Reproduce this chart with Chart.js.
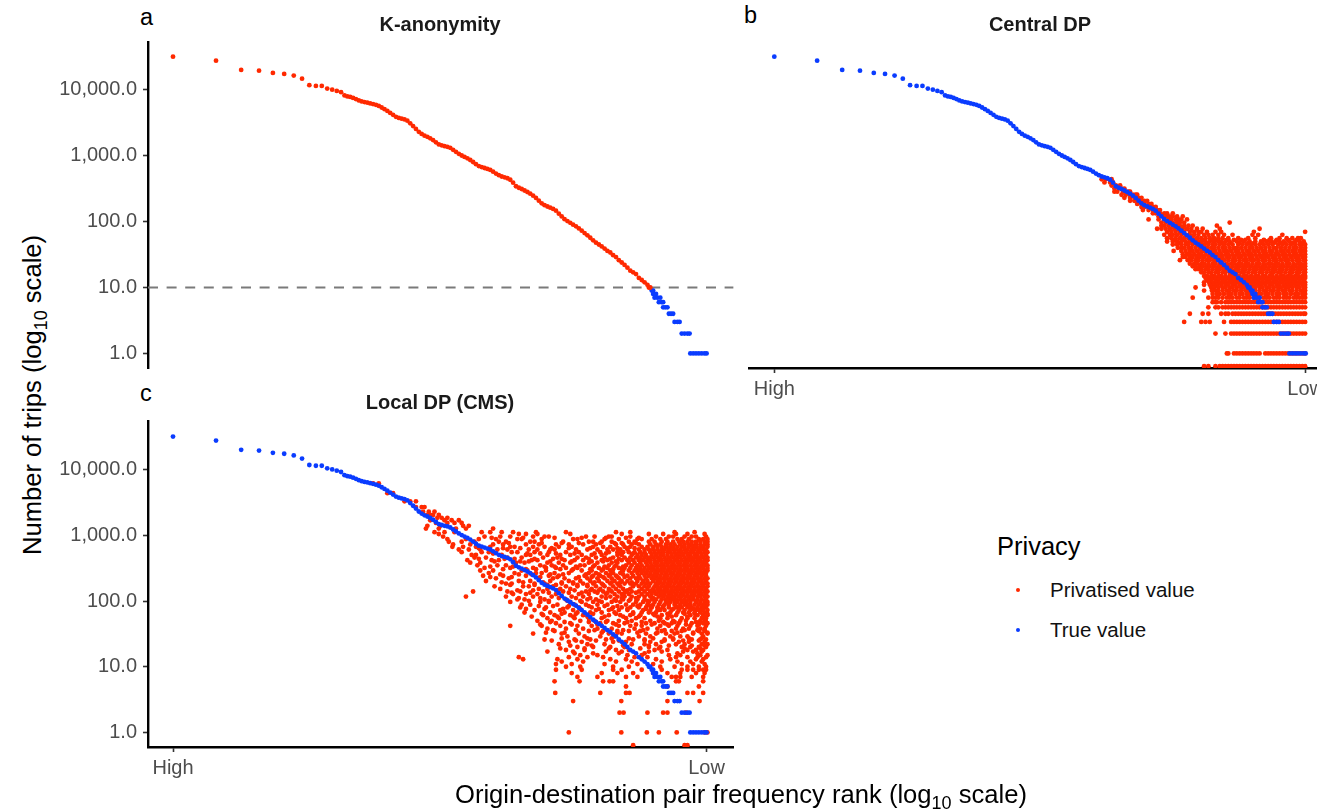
<!DOCTYPE html>
<html>
<head>
<meta charset="utf-8">
<title>Origin-destination trips under privacy methods</title>
<script src="https://cdn.jsdelivr.net/npm/chart.js@4"></script>
<style>
  html, body { margin: 0; padding: 0; width: 1317px; height: 809px; overflow: hidden; background: #fff; }
  body { position: relative; font-family: "Liberation Sans", Arial, sans-serif; color: #000; }
  canvas { position: absolute; }
  .txt { position: absolute; white-space: nowrap; line-height: 1; }
  .letter { font-size: 23.5px; }
  .title { font-size: 20px; font-weight: bold; color: #1a1a1a; transform: translateX(-50%); }
  .axis-title { font-size: 25.6px; }
  .axis-title sub { font-size: 18px; line-height: 0; }
  .dot { position: absolute; width: 4px; height: 4px; border-radius: 50%; }
</style>
</head>
<body>
<canvas id="panel-a" width="676" height="340" style="left:60px;top:32px"></canvas>
<canvas id="panel-b" width="588" height="376" style="left:747px;top:32px"></canvas>
<canvas id="panel-c" width="676" height="376" style="left:60px;top:411px"></canvas>

<div class="txt letter" style="left:140px;top:6px">a</div>
<div class="txt letter" style="left:744px;top:4px">b</div>
<div class="txt letter" style="left:140px;top:382px">c</div>
<div class="txt title" style="left:440px;top:14px">K-anonymity</div>
<div class="txt title" style="left:1040px;top:14px">Central DP</div>
<div class="txt title" style="left:440px;top:392px">Local DP (CMS)</div>
<div class="txt axis-title" style="left:33px;top:395px;transform:translate(-50%,-50%) rotate(-90deg)">Number of trips (log<sub>10</sub> scale)</div>
<div class="txt axis-title" style="left:741px;top:782px;transform:translateX(-50%)">Origin-destination pair frequency rank (log<sub>10</sub> scale)</div>

<div class="txt" style="left:997px;top:534px;font-size:25.5px">Privacy</div>
<div class="dot" style="left:1016px;top:588px;background:#FF2900"></div>
<div class="txt" style="left:1050px;top:580px;font-size:20.5px;color:#111">Privatised value</div>
<div class="dot" style="left:1016px;top:628px;background:#0A3CFF"></div>
<div class="txt" style="left:1050px;top:620px;font-size:20.5px;color:#111">True value</div>

<script>
// x values are log10 of the rank
const xTickValues = [0, 3.734];
const xTickLabels = ['High', 'Low'];
const yTickValues = [1, 10, 100, 1000, 10000];
const yTickLabels = ['1.0', '10.0', '100.0', '1,000.0', '10,000.0'];
const kThreshold = 10;
const floorTrips = 0.64; // zero counts, squashed onto the axis

const trueRank = [0,0.301,0.477,0.602,0.699,0.778,0.845,0.903,0.954,1,1.041,1.079,1.114,1.146,1.176,
  1.20,1.22,1.24,1.26,1.28,1.30,1.32,1.34,1.36,1.38,1.40,1.42,1.44,1.46,1.48,1.50,1.52,1.54,1.56,1.58,
  1.60,1.62,1.64,1.66,1.68,1.70,1.72,1.74,1.76,1.78,1.80,1.82,1.84,1.86,1.88,1.90,1.92,1.94,1.96,1.98,
  2.00,2.02,2.04,2.06,2.08,2.10,2.12,2.14,2.16,2.18,2.20,2.22,2.24,2.26,2.28,2.30,2.32,2.34,2.36,2.38,
  2.40,2.42,2.44,2.46,2.48,2.50,2.52,2.54,2.56,2.58,2.60,2.62,2.64,2.66,2.68,2.70,2.72,2.74,2.76,2.78,
  2.80,2.82,2.84,2.86,2.88,2.90,2.92,2.94,2.96,2.98,3.00,3.02,3.04,3.06,3.08,3.10,3.12,3.14,3.16,3.18,
  3.20,3.22,3.24,3.26,3.28,3.30,3.32,3.33,3.34,
  3.35,3.36,3.36,3.38,3.37,3.39,3.41,3.40,3.42,3.43,3.43,3.445,3.46,3.47,3.485,3.50,3.51,3.53,3.545,
  3.56,3.58,3.60,3.615,3.62,3.64,3.66,3.68,3.70,3.72,3.734];
const trueTrips = [32000,27800,20100,19600,18100,17500,16500,14800,11800,11500,11500,10500,10100,9660,9230,
  8260,7980,7830,7570,7260,6930,6700,6530,6400,6240,6090,5930,5720,5410,5100,4800,4480,4180,3900,3760,
  3660,3570,3410,3110,2830,2560,2310,2150,2020,1940,1840,1730,1600,1490,1440,1400,1370,1320,1230,1150,
  1070,1010,960,914,863,805,746,698,675,653,631,610,573,537,507,485,471,456,433,390,
  345,327,313,297,282,266,248,229,208,190,178,170,163,156,147,132,120,109,102,96,
  90,85,79,73,67,62,57,52,48,45,42,39,36,34,31,29,26,24,22,20,
  18,17,16,14,13,12,11,10,10,
  9,9,8,8,7,7,7,6,6,6,5,5,5,4,4,4,3,3,3,
  2,2,2,2,1,1,1,1,1,1,1];

// panel b: privatised values, one list of ranks per count
const centralTrips = [440,394,354,318,285,256,230,207,186,167,150,134,120,108,97,87,78,70,63,56,53,50,47,45,40,36,32,29,26,23,21,19,17,15,14,13,12,11,10,9,8,7,6,5,4,3,2,1,floorTrips];
const centralRanks = [
  [2.30,2.33,2.37],
  [2.32,2.36,2.38],
  [2.37,2.40,2.43],
  [2.39,2.42,2.44,2.46],
  [2.39,2.41,2.45,2.47,2.49,2.50],
  [2.44,2.47,2.50,2.52,2.54,2.55],
  [2.46,2.50,2.53,2.56,2.58],
  [2.50,2.53,2.55,2.58,2.60,2.62],
  [2.55,2.58,2.60,2.63,2.65],
  [2.58,2.60,2.63,2.66,2.68],
  [2.59,2.63,2.66,2.69,2.71],
  [2.66,2.68,2.71,2.74,2.76,2.80],
  [2.70,2.73,2.76,2.78,2.80,2.83,2.87],
  [2.63,2.70,2.74,2.77,2.79,2.82,2.84,2.86,2.90],
  [2.72,2.75,2.78,2.80,2.83,2.85,2.88,3.20],
  [2.72,2.74,2.77,2.80,2.83,2.85,2.88,2.91,2.94,3.11],
  [2.69,2.72,2.75,2.78,2.81,2.84,2.87,2.90,2.93,2.97,3.01,3.13,3.41],
  [2.76,2.79,2.82,2.85,2.88,2.92,2.95,2.98,3.00,3.04,3.10,3.14,3.37,3.73],
  [2.74,2.78,2.80,2.83,2.86,2.89,2.92,2.95,2.98,3.02,3.05,3.08,3.12,3.16,3.22,3.36,3.40,3.57],
  [2.76,2.79,2.82,2.85,2.88,2.91,2.94,2.97,3.00,3.03,3.06,3.09,3.12,3.15,3.19,3.26,3.33,3.38,3.49,3.55,3.60,3.64,3.68,3.70],
  [2.81,2.87,2.93,2.96,3.01,3.07,3.11,3.18,3.23,3.28,3.31,3.44,3.48,3.53,3.61,3.67],
  [2.76,2.80,2.83,2.86,2.89,2.92,2.95,2.98,3.00,3.03,3.06,3.09,3.12,3.14,3.17,3.20,3.25,3.30,3.34,3.38,3.42,3.46,3.49,3.52,3.55,3.58,3.62,3.66,3.69,3.72],
  [2.84,2.90,2.99,3.04,3.09,3.15,3.21,3.27,3.33,3.37,3.43,3.51,3.56,3.59,3.64,3.71],
  [2.80,2.83,2.86,2.89,2.91,2.94,2.97,2.99,3.02,3.05,3.08,3.10,3.13,3.16,3.19,3.22,3.26,3.29,3.32,3.35,3.38,3.41,3.44,3.47,3.50,3.54,3.57,3.60,3.63,3.66,3.69,3.71,3.73],
  [2.835,2.86,2.88,2.91,2.93,2.96,2.99,3.01,3.04,3.07,3.09,3.12,3.15,3.17,3.20,3.23,3.25,3.28,3.31,3.34,3.36,3.39,3.42,3.45,3.48,3.51,3.53,3.56,3.59,3.62,3.65,3.67,3.70,3.73],
  [2.806,2.86,2.89,2.92,2.94,2.97,3.00,3.02,3.05,3.08,3.10,3.13,3.16,3.18,3.21,3.24,3.26,3.29,3.32,3.34,3.37,3.40,3.43,3.45,3.48,3.50,3.53,3.56,3.58,3.61,3.64,3.66,3.69,3.71,3.73],
  [2.87,2.90,2.92,2.95,2.98,3.00,3.03,3.06,3.09,3.11,3.14,3.17,3.19,3.22,3.25,3.27,3.30,3.33,3.35,3.38,3.41,3.44,3.46,3.49,3.52,3.54,3.57,3.59,3.62,3.65,3.67,3.70,3.73],
  [2.87,2.89,2.92,2.94,2.97,2.99,3.02,3.05,3.07,3.10,3.13,3.15,3.18,3.20,3.23,3.26,3.28,3.31,3.34,3.36,3.39,3.42,3.44,3.47,3.50,3.52,3.55,3.58,3.60,3.63,3.66,3.68,3.71,3.73],
  [2.85,2.905,2.93,2.96,2.98,3.01,3.04,3.06,3.09,3.11,3.14,3.16,3.19,3.22,3.24,3.27,3.30,3.32,3.35,3.37,3.40,3.43,3.45,3.48,3.51,3.53,3.56,3.59,3.61,3.64,3.67,3.69,3.72,3.73],
  [2.92,2.95,2.97,3.00,3.02,3.05,3.08,3.10,3.13,3.15,3.18,3.21,3.23,3.26,3.28,3.31,3.33,3.36,3.39,3.41,3.44,3.47,3.49,3.52,3.54,3.57,3.60,3.62,3.65,3.68,3.70,3.73],
  [2.94,2.96,2.99,3.01,3.04,3.06,3.09,3.12,3.14,3.17,3.19,3.22,3.25,3.27,3.30,3.32,3.35,3.38,3.40,3.43,3.45,3.48,3.51,3.53,3.56,3.58,3.61,3.64,3.66,3.69,3.71,3.73],
  [2.96,2.98,3.00,3.03,3.05,3.08,3.11,3.13,3.16,3.18,3.21,3.24,3.26,3.29,3.31,3.34,3.37,3.39,3.42,3.44,3.47,3.50,3.52,3.55,3.57,3.60,3.63,3.65,3.68,3.70,3.73],
  [3.00,3.02,3.05,3.07,3.10,3.12,3.15,3.17,3.20,3.23,3.25,3.28,3.30,3.33,3.36,3.38,3.41,3.43,3.46,3.49,3.51,3.54,3.56,3.59,3.62,3.64,3.67,3.69,3.72,3.73],
  [3.02,3.04,3.07,3.09,3.12,3.14,3.17,3.20,3.22,3.25,3.27,3.30,3.32,3.35,3.38,3.40,3.43,3.45,3.48,3.50,3.53,3.56,3.58,3.61,3.63,3.66,3.68,3.71,3.73],
  [3.03,3.05,3.08,3.10,3.13,3.16,3.18,3.21,3.23,3.26,3.28,3.31,3.34,3.36,3.39,3.41,3.44,3.47,3.49,3.52,3.54,3.57,3.60,3.62,3.65,3.67,3.70,3.72,3.73],
  [3.04,3.07,3.10,3.12,3.15,3.17,3.20,3.23,3.25,3.28,3.30,3.33,3.35,3.38,3.40,3.43,3.46,3.48,3.51,3.53,3.56,3.59,3.61,3.64,3.66,3.69,3.72],
  [3.02,3.055,3.08,3.11,3.13,3.16,3.18,3.21,3.24,3.26,3.29,3.31,3.34,3.37,3.39,3.42,3.44,3.47,3.50,3.52,3.55,3.57,3.60,3.63,3.65,3.68,3.70,3.73],
  [3.02,3.06,3.09,3.11,3.14,3.17,3.19,3.22,3.24,3.27,3.29,3.32,3.35,3.37,3.40,3.42,3.45,3.48,3.50,3.53,3.55,3.58,3.61,3.63,3.66,3.68,3.71,3.73],
  [2.96,3.07,3.09,3.12,3.15,3.17,3.20,3.22,3.25,3.28,3.30,3.33,3.35,3.38,3.41,3.43,3.46,3.48,3.51,3.54,3.56,3.59,3.61,3.64,3.67,3.69,3.72,3.73],
  [3.02,3.075,3.10,3.12,3.15,3.18,3.20,3.23,3.25,3.28,3.31,3.33,3.36,3.38,3.41,3.44,3.46,3.49,3.51,3.54,3.57,3.59,3.62,3.64,3.67,3.70,3.72,3.73],
  [3.08,3.11,3.13,3.16,3.19,3.21,3.24,3.27,3.29,3.32,3.34,3.37,3.40,3.42,3.45,3.47,3.50,3.53,3.55,3.58,3.60,3.63,3.66,3.68,3.71,3.73],
  [2.94,3.05,3.08,3.10,3.12,3.15,3.18,3.20,3.22,3.25,3.27,3.30,3.32,3.34,3.37,3.39,3.41,3.44,3.46,3.48,3.51,3.53,3.55,3.58,3.60,3.62,3.65,3.67,3.69,3.71,3.73],
  [3.08,3.10,3.11,3.14,3.17,3.19,3.21,3.23,3.25,3.27,3.29,3.31,3.33,3.35,3.37,3.39,3.41,3.43,3.45,3.47,3.49,3.51,3.53,3.55,3.57,3.59,3.61,3.63,3.65,3.67,3.69,3.71,3.73],
  [3.05,3.10,3.12,3.15,3.17,3.19,3.21,3.23,3.25,3.27,3.29,3.31,3.33,3.35,3.37,3.39,3.41,3.43,3.45,3.47,3.49,3.51,3.53,3.55,3.57,3.59,3.61,3.63,3.65,3.67,3.69,3.71,3.73],
  [2.92,3.01,3.05,3.14,3.17,3.19,3.22,3.24,3.26,3.28,3.30,3.32,3.34,3.36,3.38,3.40,3.42,3.44,3.46,3.48,3.50,3.52,3.54,3.56,3.58,3.60,3.62,3.64,3.66,3.68,3.70,3.72,3.73],
  [2.88,3.00,3.03,3.06,3.16,3.21,3.23,3.25,3.27,3.29,3.31,3.33,3.35,3.37,3.39,3.41,3.43,3.45,3.47,3.49,3.51,3.53,3.55,3.57,3.59,3.61,3.63,3.65,3.67,3.69,3.71,3.73],
  [3.10,3.17,3.21,3.23,3.25,3.27,3.29,3.31,3.33,3.35,3.37,3.39,3.41,3.43,3.45,3.47,3.49,3.51,3.53,3.55,3.57,3.59,3.61,3.63,3.65,3.67,3.69,3.71,3.73],
  [3.18,3.19,3.23,3.25,3.27,3.29,3.31,3.33,3.35,3.37,3.39,3.41,3.45,3.47,3.49,3.51,3.53,3.55,3.57,3.59,3.61,3.63,3.65,3.67,3.69,3.71,3.73],
  [3.02,3.05,3.10,3.13,3.15,3.17,3.19,3.21,3.23,3.25,3.27,3.29,3.31,3.33,3.35,3.37,3.39,3.41,3.43,3.45,3.47,3.49,3.51,3.53,3.55,3.57,3.59,3.61,3.63,3.65,3.67,3.69,3.71,3.73]
];

// panel c: privatised values, one list of ranks per count
const localTrips = [6200,4400,3300,2700,2300,2050,1850,1700,1550,1400,1270,1120,1050,960,880,800,730,670,610,555,505,460,420,385,350,320,292,267,243,222,202,185,168,153,140,128,117,106,97,88,80,73,67,61,55,50,46,42,38,35,32,29,26,24,22,20,18,17,15,14,13,12,11,10,9,8,7,6,5,4,3,2,1,floorTrips];
const localRanks = [
  [1.40,1.44],
  [1.50,1.54],
  [1.62,1.66,1.70],
  [1.70,1.74,1.76],
  [1.75,1.79,1.83],
  [1.78,1.80,1.82,1.86],
  [1.85,1.88,1.92],
  [1.80,1.90,1.95,2.00],
  [1.84,1.92,1.97,2.02],
  [1.78,1.87,2.03,2.07],
  [1.77,1.86,1.98,2.05,2.24],
  [1.83,1.90,1.97,2.16,2.22,2.30,2.38,2.54,2.75,3.10,3.20,3.51,3.65],
  [1.86,2.42,2.47,2.55,2.78,3.14,3.33,3.43,3.52,3.60,3.72],
  [1.89,2.18,2.29,2.36,2.52,2.60,2.63,2.89,2.95,3.05,3.07,3.20,3.38,3.47,3.50,3.58,3.63,3.66,3.73],
  [1.92,2.05,2.14,2.26,2.41,2.44,2.58,2.80,2.83,3.02,3.12,3.25,3.28,3.35,3.41,3.45,3.53,3.56,3.61,3.68,3.71,3.74],
  [1.93,2.02,2.11,2.28,2.33,2.50,2.53,2.73,2.91,2.94,3.00,3.07,3.19,3.23,3.33,3.37,3.42,3.46,3.50,3.54,3.57,3.60,3.63,3.66,3.69,3.72,3.74],
  [1.96,2.08,2.24,2.31,2.47,2.56,2.68,2.77,2.87,2.96,3.10,3.15,3.21,3.26,3.34,3.38,3.41,3.45,3.48,3.51,3.55,3.58,3.61,3.63,3.66,3.69,3.72,3.74],
  [1.955,2.03,2.12,2.22,2.36,2.39,2.52,2.60,2.70,2.79,2.94,3.01,3.06,3.16,3.20,3.28,3.32,3.36,3.39,3.42,3.45,3.48,3.50,3.53,3.56,3.58,3.61,3.64,3.66,3.69,3.71,3.74],
  [2.00,2.07,2.15,2.27,2.34,2.49,2.55,2.64,2.67,2.82,2.90,2.97,3.04,3.08,3.13,3.18,3.26,3.30,3.33,3.36,3.39,3.42,3.44,3.47,3.50,3.52,3.55,3.58,3.60,3.63,3.65,3.68,3.71,3.73],
  [2.02,2.16,2.21,2.37,2.41,2.53,2.63,2.75,2.84,2.99,3.05,3.11,3.15,3.19,3.23,3.27,3.30,3.34,3.37,3.40,3.43,3.46,3.48,3.51,3.54,3.56,3.59,3.62,3.64,3.67,3.69,3.72,3.74],
  [2.09,2.12,2.30,2.47,2.50,2.62,2.71,2.78,2.86,2.93,3.00,3.11,3.14,3.21,3.25,3.28,3.31,3.35,3.38,3.41,3.43,3.46,3.49,3.52,3.54,3.57,3.60,3.62,3.65,3.67,3.70,3.73],
  [2.11,2.19,2.34,2.44,2.59,2.69,2.83,2.89,2.96,3.02,3.08,3.16,3.20,3.24,3.27,3.30,3.33,3.36,3.39,3.41,3.44,3.47,3.50,3.53,3.55,3.58,3.61,3.63,3.66,3.68,3.71,3.74],
  [2.06,2.23,2.28,2.51,2.55,2.74,2.81,2.87,3.00,3.04,3.14,3.18,3.22,3.26,3.29,3.32,3.34,3.37,3.40,3.42,3.45,3.48,3.51,3.53,3.56,3.59,3.61,3.64,3.67,3.69,3.72,3.74],
  [2.08,2.15,2.40,2.46,2.62,2.70,2.78,2.91,2.97,3.07,3.11,3.19,3.23,3.27,3.31,3.34,3.37,3.39,3.42,3.45,3.47,3.50,3.53,3.55,3.58,3.60,3.63,3.66,3.68,3.71,3.73],
  [2.13,2.27,2.33,2.57,2.65,2.73,2.85,2.88,2.95,3.05,3.10,3.17,3.21,3.25,3.28,3.32,3.35,3.38,3.41,3.43,3.46,3.49,3.51,3.54,3.57,3.59,3.62,3.65,3.67,3.70,3.72,3.74],
  [2.18,2.36,2.52,2.61,2.68,2.75,2.83,2.98,3.04,3.12,3.16,3.20,3.24,3.27,3.30,3.33,3.36,3.39,3.42,3.44,3.47,3.50,3.52,3.55,3.58,3.60,3.63,3.66,3.68,3.71,3.74],
  [2.15,2.24,2.44,2.48,2.61,2.79,2.86,2.93,3.00,3.06,3.15,3.19,3.23,3.26,3.29,3.32,3.35,3.38,3.40,3.43,3.46,3.48,3.51,3.54,3.56,3.59,3.61,3.64,3.67,3.69,3.72,3.74],
  [2.21,2.39,2.54,2.58,2.67,2.77,2.91,2.96,3.03,3.08,3.13,3.21,3.25,3.28,3.31,3.34,3.37,3.39,3.42,3.45,3.48,3.50,3.53,3.55,3.58,3.61,3.63,3.66,3.68,3.71,3.73],
  [2.17,2.31,2.47,2.63,2.70,2.88,2.94,2.99,3.05,3.10,3.18,3.22,3.26,3.30,3.33,3.36,3.38,3.41,3.44,3.46,3.49,3.52,3.54,3.57,3.60,3.62,3.65,3.67,3.70,3.73],
  [2.26,2.35,2.56,2.66,2.74,2.82,2.90,2.97,3.02,3.07,3.12,3.20,3.24,3.27,3.31,3.35,3.37,3.40,3.43,3.45,3.48,3.51,3.53,3.56,3.59,3.61,3.64,3.67,3.69,3.72,3.74],
  [2.19,2.42,2.50,2.64,2.77,2.85,2.92,2.98,3.04,3.09,3.14,3.18,3.25,3.29,3.32,3.36,3.39,3.41,3.44,3.47,3.49,3.52,3.55,3.57,3.60,3.63,3.65,3.68,3.70,3.73],
  [2.33,2.37,2.53,2.60,2.72,2.80,2.87,2.94,3.00,3.06,3.11,3.16,3.20,3.24,3.28,3.31,3.34,3.38,3.40,3.43,3.46,3.48,3.51,3.54,3.56,3.59,3.62,3.64,3.67,3.70,3.72,3.74],
  [2.25,2.45,2.49,2.66,2.75,2.83,2.90,2.96,3.02,3.08,3.13,3.22,3.26,3.30,3.33,3.37,3.39,3.42,3.45,3.47,3.50,3.53,3.55,3.58,3.61,3.63,3.66,3.68,3.71,3.74],
  [2.29,2.56,2.62,2.71,2.78,2.93,2.99,3.05,3.10,3.15,3.20,3.28,3.32,3.36,3.39,3.41,3.44,3.46,3.49,3.52,3.54,3.57,3.60,3.62,3.65,3.68,3.70,3.73],
  [2.10,2.34,2.43,2.59,2.73,2.89,2.95,3.01,3.07,3.12,3.17,3.21,3.26,3.30,3.34,3.37,3.40,3.43,3.45,3.48,3.50,3.53,3.56,3.59,3.61,3.64,3.66,3.69,3.72,3.74],
  [2.38,2.47,2.55,2.68,2.84,2.91,3.03,3.09,3.14,3.19,3.28,3.32,3.35,3.38,3.41,3.44,3.47,3.49,3.52,3.55,3.57,3.60,3.63,3.65,3.68,3.70,3.73],
  [2.05,2.33,2.52,2.65,2.79,2.87,3.00,3.06,3.11,3.16,3.21,3.26,3.30,3.34,3.40,3.43,3.46,3.48,3.51,3.54,3.56,3.59,3.61,3.64,3.67,3.69,3.72,3.74],
  [2.41,2.46,2.60,2.75,2.90,2.96,3.09,3.15,3.20,3.25,3.30,3.35,3.38,3.42,3.45,3.47,3.49,3.52,3.55,3.58,3.61,3.64,3.67,3.70,3.73],
  [2.36,2.57,2.63,2.78,2.86,2.94,3.00,3.07,3.13,3.24,3.29,3.33,3.37,3.41,3.45,3.48,3.51,3.53,3.56,3.59,3.62,3.66,3.69,3.72,3.74],
  [2.44,2.50,2.69,2.81,2.89,2.97,3.04,3.17,3.22,3.27,3.32,3.36,3.40,3.44,3.47,3.51,3.55,3.58,3.60,3.62,3.65,3.68,3.71,3.74],
  [2.43,2.61,2.76,2.84,2.93,3.08,3.14,3.20,3.26,3.31,3.35,3.39,3.43,3.47,3.52,3.54,3.56,3.60,3.63,3.67,3.70,3.73],
  [2.53,2.71,2.80,2.96,3.05,3.12,3.18,3.29,3.34,3.39,3.41,3.44,3.49,3.54,3.58,3.62,3.66,3.68,3.70,3.74],
  [2.46,2.64,2.74,2.83,2.92,3.00,3.09,3.22,3.28,3.33,3.38,3.48,3.53,3.57,3.61,3.65,3.69,3.72],
  [2.59,2.67,2.78,2.87,3.05,3.13,3.20,3.27,3.37,3.42,3.47,3.52,3.62,3.67,3.71,3.74],
  [2.62,2.70,2.81,2.91,3.00,3.17,3.24,3.30,3.41,3.46,3.56,3.60,3.65,3.70,3.73],
  [2.55,2.65,2.85,2.95,3.04,3.12,3.21,3.34,3.40,3.50,3.55,3.59,3.69,3.72],
  [2.68,2.78,2.99,3.08,3.16,3.31,3.37,3.44,3.49,3.54,3.63,3.68,3.71,3.74],
  [2.36,2.58,2.71,2.83,2.93,3.12,3.20,3.28,3.41,3.47,3.53,3.62,3.67,3.73],
  [2.62,2.75,2.87,2.97,3.07,3.23,3.32,3.39,3.52,3.57,3.61,3.69,3.72],
  [2.67,2.91,3.01,3.11,3.19,3.27,3.42,3.49,3.56,3.68,3.72],
  [2.52,2.72,2.84,3.05,3.14,3.31,3.38,3.45,3.51,3.64,3.70,3.74],
  [2.76,2.88,2.99,3.09,3.26,3.34,3.48,3.55,3.60,3.71],
  [2.60,2.81,2.92,3.03,3.22,3.30,3.44,3.50,3.63,3.69,3.73],
  [2.77,2.86,3.08,3.17,3.34,3.42,3.54,3.61,3.72],
  [2.70,2.90,3.02,3.21,3.30,3.38,3.52,3.58,3.70,3.74],
  [2.83,2.94,3.06,3.16,3.33,3.41,3.56,3.62,3.68,3.73],
  [2.75,2.88,3.10,3.19,3.37,3.46,3.60,3.66,3.71],
  [2.62,2.80,3.03,3.14,3.33,3.42,3.57,3.64,3.70],
  [2.85,2.97,3.18,3.28,3.47,3.55,3.69,3.74],
  [2.42,2.77,2.90,3.01,3.23,3.32,3.52,3.60,3.67,3.73],
  [2.45,2.69,2.83,3.06,3.17,3.38,3.48,3.66,3.71],
  [2.72,2.87,3.10,3.21,3.42,3.53,3.62,3.70],
  [2.68,2.79,3.02,3.25,3.36,3.56,3.64,3.72],
  [2.75,2.85,3.08,3.19,3.41,3.51,3.60,3.68,3.73],
  [2.68,2.86,3.08,3.14,3.28,3.42,3.56,3.60,3.64,3.68,3.71,3.73],
  [2.79,3.00,3.11,3.22,3.36,3.46,3.55,3.66,3.72],
  [2.83,2.97,3.17,3.25,3.49,3.52,3.55,3.63,3.71],
  [2.67,2.845,3.01,3.055,3.08,3.52,3.54,3.71],
  [3.17,3.46,3.68],
  [2.675,2.99,3.17,3.195,3.60,3.64,3.71],
  [2.80,3.137,3.46,3.685],
  [3.125,3.153,3.32,3.43,3.46,3.59],
  [2.77,3.137,3.316,3.40,3.525,3.72,3.74],
  [3.22,3.58,3.60],
  [2.20,2.26,2.33,2.38,2.44,2.50,2.53,2.56,2.59,2.62,2.65,2.68,2.71,2.74,2.77,2.80,2.83,2.86,2.89,2.92,2.95,2.98,3.01,3.04,3.07,3.10,3.13,3.16,3.19,3.22,3.25,3.28,3.31,3.34,3.37,3.40,3.43,3.46,3.49,3.52,3.55,3.58,3.61,3.64,3.67,3.70,3.73]
];

// panel c again: the scattered points that sit between those counts
const localFillTrips = [920,765,640,530,440,402,335,306,255,232,193,176,146,134,111,101,84,76,64,58,48,44,36,33,27,25,21,19,16];
const localFillRanks = [
  [2.23,2.45,2.67,2.86,3.03,3.17,3.26],
  [2.35,2.58,2.72,2.84,2.99,3.09,3.14,3.24],
  [2.14,2.31,2.43,2.65,2.77,2.92,3.11,3.18,3.23],
  [2.24,2.48,2.57,2.68,2.81,2.95,3.03,3.13,3.22],
  [2.14,2.32,2.39,2.53,2.66,2.72,2.91,3.06,3.12],
  [2.25,2.43,2.49,2.64,2.79,2.93,3.01,3.10,3.19],
  [2.22,2.38,2.60,2.67,2.82,2.94,3.02,3.09,3.15],
  [2.31,2.47,2.54,2.71,2.80,2.92,3.01,3.08,3.14],
  [2.29,2.42,2.51,2.64,2.73,2.89,2.98,3.06,3.15],
  [2.22,2.37,2.57,2.69,2.84,2.93,3.01,3.11,3.16],
  [2.30,2.45,2.59,2.72,2.80,2.95,3.07,3.13,3.21],
  [2.36,2.53,2.62,2.68,2.83,2.90,3.01,3.12,3.22],
  [2.41,2.52,2.69,2.81,2.92,2.98,3.06,3.18,3.35],
  [2.37,2.50,2.63,2.77,2.86,2.97,3.04,3.16,3.24,3.42],
  [2.42,2.57,2.70,2.82,2.92,3.03,3.14,3.24,3.36,3.50,3.63],
  [2.49,2.63,2.76,2.85,2.98,3.10,3.19,3.32,3.46,3.57,3.66],
  [2.56,2.66,2.77,2.91,3.02,3.11,3.25,3.34,3.43,3.52,3.61,3.72],
  [2.47,2.60,2.73,2.85,2.98,3.07,3.18,3.31,3.40,3.50,3.64,3.71],
  [2.58,2.72,2.82,2.94,3.10,3.22,3.36,3.46,3.58,3.65,3.74],
  [2.51,2.69,2.80,2.90,3.02,3.15,3.26,3.39,3.49,3.60,3.71],
  [2.64,2.74,2.91,3.03,3.18,3.28,3.43,3.51,3.66,3.73],
  [2.57,2.79,2.97,3.10,3.24,3.35,3.46,3.59,3.68],
  [2.66,2.82,2.95,3.15,3.29,3.44,3.58,3.67,3.72],
  [2.61,2.74,3.00,3.11,3.25,3.39,3.53,3.64,3.74],
  [2.72,2.90,3.07,3.19,3.36,3.50,3.61,3.70],
  [2.65,2.82,2.96,3.12,3.30,3.44,3.57,3.68],
  [2.78,2.93,3.15,3.33,3.47,3.63,3.72],
  [2.71,2.88,3.05,3.27,3.40,3.58,3.69],
  [2.81,2.94,3.12,3.30,3.53,3.67]
];

const xMin = -0.175, xMax = 3.923;
const redColor = '#FF2900', blueColor = '#0A3CFF';

const toPoints = (trips, ranks) => trips.flatMap((t, i) => ranks[i].map(r => ({ x: r, y: t })));
const truePoints = trueRank.map((r, i) => ({ x: r, y: trueTrips[i] }));

function dotSet(data, color, order) {
  return { data, backgroundColor: color, pointRadius: 2.4, pointHoverRadius: 2.4, pointBorderWidth: 0, clip: 0, order };
}

function makePanel(id, datasets, showX, showY, yMin, yMax, bottomPad) {
  new Chart(document.getElementById(id), {
    type: 'scatter',
    data: { datasets },
    options: {
      responsive: false,
      animation: false,
      events: [],
      layout: { padding: { top: 10, right: 0, bottom: bottomPad, left: 0 } },
      plugins: { legend: { display: false }, tooltip: { enabled: false } },
      scales: {
        x: {
          type: 'linear', display: showX, min: xMin, max: xMax,
          afterBuildTicks: s => { s.ticks = xTickValues.map(v => ({ value: v })); },
          afterFit: s => {
            s.paddingLeft = 0; s.paddingRight = 0;
            s.height = showX ? 40 : 0;
          },
          border: { display: true, color: '#000', width: 2.4 },
          grid: { display: true, drawOnChartArea: false, drawTicks: true, tickLength: 5, tickColor: '#333', tickWidth: 1.6 },
          ticks: {
            autoSkip: false, maxRotation: 0, padding: 4, color: '#4D4D4D',
            font: { family: '"Liberation Sans"', size: 20 },
            callback: v => xTickLabels[xTickValues.indexOf(v)]
          }
        },
        y: {
          type: 'logarithmic', display: showY, min: yMin, max: yMax,
          afterBuildTicks: s => { s.ticks = yTickValues.map(v => ({ value: v })); },
          afterFit: s => {
            s.paddingTop = 0; s.paddingBottom = 0;
            s.width = showY ? 88 : 0;
          },
          border: { display: true, color: '#000', width: 2.4 },
          grid: { display: true, drawOnChartArea: false, drawTicks: true, tickLength: 5, tickColor: '#333', tickWidth: 1.6 },
          ticks: {
            autoSkip: false, padding: 6, color: '#4D4D4D',
            font: { family: '"Liberation Sans"', size: 20 },
            callback: v => yTickLabels[yTickValues.indexOf(v)]
          }
        }
      }
    }
  });
}

// panel a: counts under the threshold are suppressed, so they stay true values
const thresholdLine = {
  data: [{ x: xMin, y: kThreshold }, { x: xMax, y: kThreshold }],
  showLine: true, borderColor: '#7A7A7A', borderWidth: 1.8, borderDash: [10, 8.6],
  pointRadius: 0, clip: 0, order: 3
};
makePanel('panel-a', [
  dotSet(truePoints.filter(p => p.y >= kThreshold), redColor, 1),
  dotSet(truePoints.filter(p => p.y < kThreshold), blueColor, 2),
  thresholdLine
], false, true, 0.613, 53400, 4);

makePanel('panel-b', [
  dotSet(truePoints, blueColor, 1),
  dotSet(toPoints(centralTrips, centralRanks), redColor, 2)
], true, false, 0.613, 53400, 0);

makePanel('panel-c', [
  dotSet(truePoints, blueColor, 1),
  dotSet(toPoints(localTrips, localRanks).concat(toPoints(localFillTrips, localFillRanks)), redColor, 2)
], true, true, 0.635, 55200, 0);
</script>
</body>
</html>
